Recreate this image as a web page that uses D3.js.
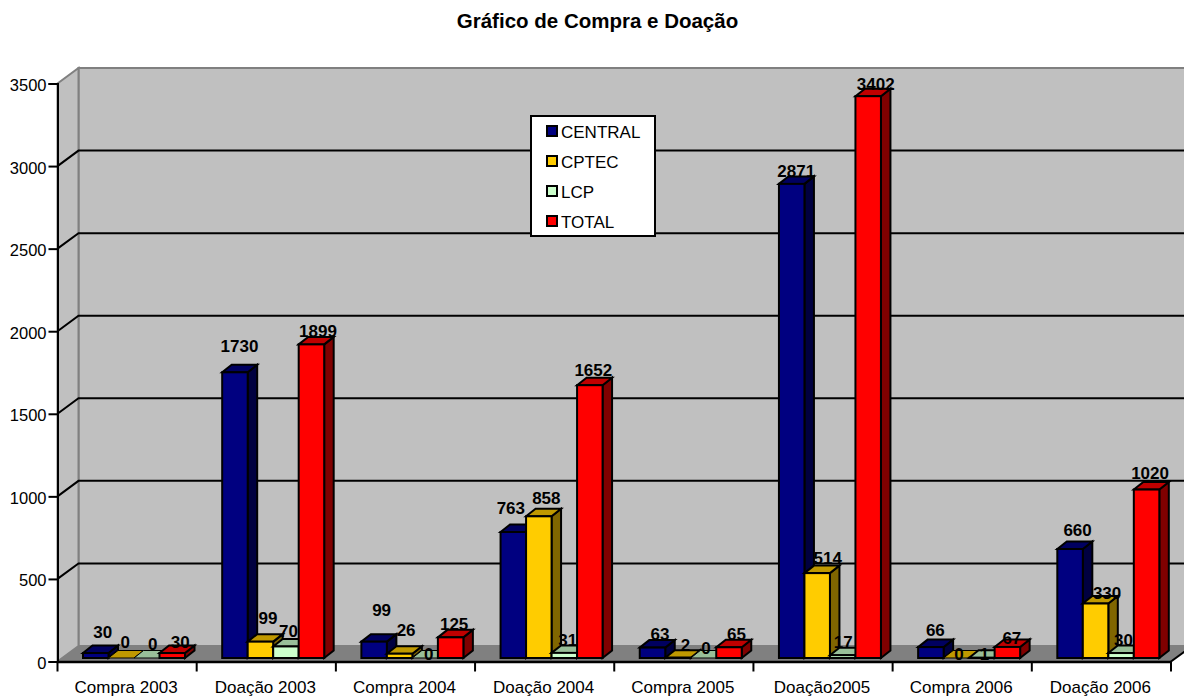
<!DOCTYPE html>
<html><head><meta charset="utf-8">
<script src="https://cdn.jsdelivr.net/npm/d3@7"></script>
<style>html,body{margin:0;padding:0;background:#fff}svg{display:block}text{font-family:"Liberation Sans",Arial,sans-serif;fill:#000}</style>
</head><body><svg id="c" width="1184" height="698"></svg>
<script>
const title = "Gráfico de Compra e Doação";
const categories = ["Compra 2003","Doação 2003","Compra 2004","Doação 2004","Compra 2005","Doação2005","Compra 2006","Doação 2006"];
const seriesNames = ["CENTRAL","CPTEC","LCP","TOTAL"];
const central = [30,1730,99,763,63,2871,66,660];
const cptec = [0,99,26,858,2,514,0,330];
const lcp = [0,70,0,31,0,17,1,30];
const total = [30,1899,125,1652,65,3402,67,1020];
const yTicks = [0,500,1000,1500,2000,2500,3000,3500];
const seriesValues = [central,cptec,lcp,total];

// styling and label nudges (separate from the values)
const colors = [
 {front:"#000080",top:"#000060",side:"#000040"},
 {front:"#FFCC00",top:"#C09900",side:"#806600"},
 {front:"#CCFFCC",top:"#99BF99",side:"#668066"},
 {front:"#FF0000",top:"#C00000",side:"#800000"}];
const labelDx = [[7,4.5,7.5,-2.5,7.5,4.5,4.5,7.5],[4,7.5,6.5,7.5,7.5,10.5,2.5,11.5],[6,2.5,3.5,3.5,2.5,0.5,2.5,2.5],[8,6.5,3.5,3.5,7.5,7.5,4.5,3.5]];
const labelDy = [[-21,-26,-32,-24,-14,-13,-17,-19],[-16,-24,-24,-18,-13,-15,-4,-11],[-14,-16,-4,-13,-10,-13,-4,-13],[-11,-14,-13,-15,-13,-12,-9,-17]];

const svg = d3.select("#c");
const frontX0 = 57.5, frontX1 = 1171, frontY0 = 661.5, frontY1 = 83.5;
const wallDX = 21, wallDY = -15.5;
const barInsetY = 3.5, barDX = 9.5, barDY = -7.5;

const x = d3.scaleBand().domain(categories).range([frontX0, frontX1]);
const y = d3.scaleLinear().domain([0,3500]).range([frontY0, frontY1]);
const xInner = d3.scaleBand().domain(seriesNames).range([25.5, 25.5+102]);
const line = d3.line();

svg.append("text").attr("x",597.5).attr("y",28).attr("text-anchor","middle")
  .attr("font-size",20.5).attr("font-weight","bold").text(title);

// walls and floor
const bx0 = frontX0+wallDX, bx1 = frontX1+wallDX;
svg.append("path").attr("fill","#C0C0C0").attr("stroke","#808080").attr("stroke-width",2)
  .attr("d",line([[bx0,y(3500)+wallDY],[bx1,y(3500)+wallDY],[bx1,y(0)+wallDY],[bx0,y(0)+wallDY]])+"Z");
svg.append("path").attr("fill","#C0C0C0").attr("stroke","#808080").attr("stroke-width",2)
  .attr("d",line([[frontX0,y(3500)],[bx0,y(3500)+wallDY],[bx0,y(0)+wallDY],[frontX0,y(0)]])+"Z");
svg.append("path").attr("fill","#808080").attr("stroke","none")
  .attr("d",line([[frontX0,y(0)],[bx0,y(0)+wallDY],[bx1,y(0)+wallDY],[frontX1,y(0)]])+"Z");

// gridlines
yTicks.filter(d=>d>0&&d<3500).forEach(d=>{
  svg.append("path").attr("fill","none").attr("stroke","#000").attr("stroke-width",2)
    .attr("d",line([[frontX0,y(d)],[bx0,y(d)+wallDY],[bx1,y(d)+wallDY]]));
});

// axes
const yAxis = d3.axisLeft(y).tickValues(yTicks).tickSize(9).tickPadding(3).tickFormat(d3.format("d"));
const gy = svg.append("g").attr("transform",`translate(${frontX0},0)`).call(yAxis);
gy.selectAll("path,line").attr("stroke","#000").attr("stroke-width",2);
gy.selectAll("text").attr("font-size",16.5).attr("font-family",null).attr("dy","0.42em").attr("dx","1px").attr("fill","#000");

const xAxis = d3.axisBottom(x).tickSize(0).tickPadding(19);
const gx = svg.append("g").attr("transform",`translate(0,${frontY0})`).call(xAxis);
gx.select("path.domain").attr("stroke","#000").attr("stroke-width",2.5);
gx.selectAll("text").attr("font-size",17).attr("fill","#000").attr("dy","0.71em").attr("dx","-1px");
categories.concat(["__end"]).forEach((c,i)=>{
  const tx = c==="__end" ? frontX1 : x(c);
  gx.append("line").attr("x1",tx).attr("x2",tx).attr("y1",0).attr("y2",10).attr("stroke","#000").attr("stroke-width",2);
});
svg.append("line").attr("x1",frontX1).attr("y1",frontY0).attr("x2",frontX1+wallDX).attr("y2",frontY0+wallDY)
  .attr("stroke","#000").attr("stroke-width",2);

// bars
const base = y(0)-barInsetY;
const barY = v => y(v)-barInsetY;
categories.forEach((c,i)=>{
  seriesNames.forEach((s,k)=>{
    const v = seriesValues[k][i];
    const x0 = x(c)+xInner(s), x1 = x0+xInner.bandwidth(), t = barY(v);
    const g = svg.append("g").attr("stroke","#000").attr("stroke-width",2).attr("stroke-linejoin","miter");
    if(v>0) g.append("path").attr("fill",colors[k].side)
      .attr("d",line([[x1,t],[x1+barDX,t+barDY],[x1+barDX,base+barDY],[x1,base]])+"Z");
    g.append("path").attr("fill",colors[k].top)
      .attr("stroke-width",v>0?2:1)
      .attr("d",line([[x0,t],[x0+barDX,t+barDY],[x1+barDX,t+barDY],[x1,t]])+"Z");
    if(v>0) g.append("rect").attr("x",x0).attr("y",t).attr("width",x1-x0).attr("height",base-t).attr("fill",colors[k].front);
  });
});

// data labels
categories.forEach((c,i)=>{
  seriesNames.forEach((s,k)=>{
    const v = seriesValues[k][i];
    svg.append("text")
      .attr("x",x(c)+xInner(s)+xInner.bandwidth()/2+labelDx[k][i])
      .attr("y",barY(v)+labelDy[k][i]).attr("dy","0.36em")
      .attr("text-anchor","middle").attr("font-size",17).attr("font-weight","bold").text(v);
  });
});

// legend
const lg = svg.append("g");
lg.append("rect").attr("x",531).attr("y",116).attr("width",124).attr("height",120)
  .attr("fill","#fff").attr("stroke","#000").attr("stroke-width",2);
const ly = d3.scalePoint().domain(seriesNames).range([132,222]);
seriesNames.forEach((s,k)=>{
  lg.append("rect").attr("x",547).attr("y",ly(s)-6).attr("width",10).attr("height",10)
    .attr("fill",colors[k].front).attr("stroke","#000").attr("stroke-width",2);
  lg.append("text").attr("x",561).attr("y",ly(s)).attr("dy","0.36em").attr("font-size",17).text(s);
});
</script></body></html>
